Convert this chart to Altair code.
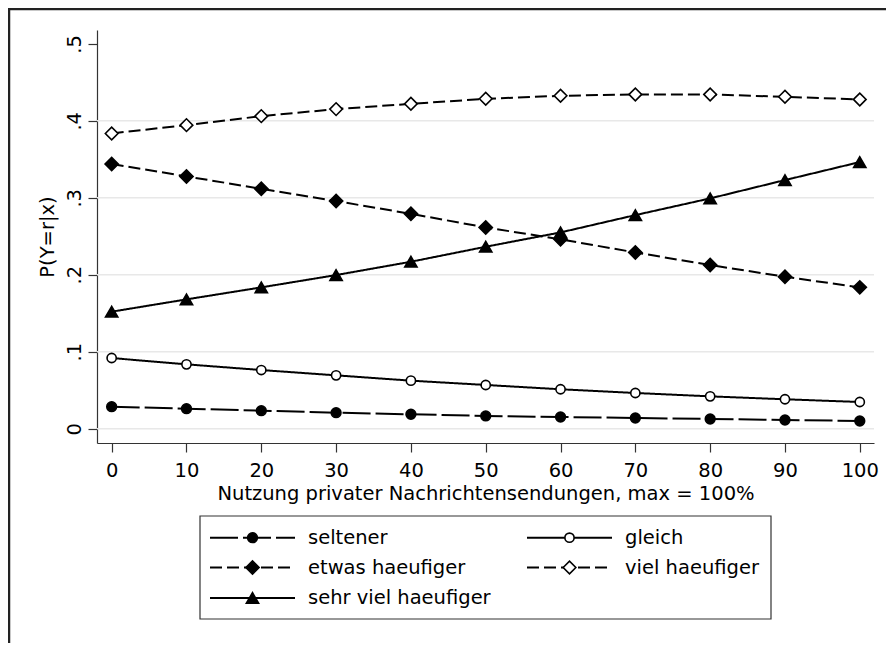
import altair as alt
import pandas as pd

# ---- data ----
x_vals = [0, 10, 20, 30, 40, 50, 60, 70, 80, 90, 100]
seltener = [0.0286, 0.0260, 0.0234, 0.0208, 0.0187, 0.0166, 0.0152, 0.0139, 0.0126, 0.0113, 0.0100]
gleich = [0.0918, 0.0836, 0.0762, 0.0693, 0.0624, 0.0568, 0.0512, 0.0464, 0.0420, 0.0382, 0.0347]
etwas = [0.3438, 0.3278, 0.3117, 0.2957, 0.2792, 0.2615, 0.2460, 0.2290, 0.2126, 0.1974, 0.1836]
viel = [0.3836, 0.3944, 0.4061, 0.4152, 0.4221, 0.4286, 0.4325, 0.4343, 0.4343, 0.4312, 0.4278]
sehr = [0.1520, 0.1680, 0.1836, 0.1996, 0.2169, 0.2364, 0.2550, 0.2775, 0.2992, 0.3230, 0.3464]
series_names = ["seltener", "gleich", "etwas haeufiger", "viel haeufiger", "sehr viel haeufiger"]
y_ticks = [0, 0.1, 0.2, 0.3, 0.4, 0.5]
grid_vals = [0, 0.1, 0.2, 0.3, 0.4]
x_title = "Nutzung privater Nachrichtensendungen, max = 100%"
y_title = "P(Y=r|x)"

# ---- styles ----
dash_range = [[28, 5], [1, 0], [12, 5], [12, 5], [1, 0]]
shape_range = ["circle", "circle", "diamond", "diamond", "triangle-up"]
fill_range = ["black", "white", "black", "white", "black"]
marker_size = {"seltener": 95, "gleich": 85, "etwas haeufiger": 175,
               "viel haeufiger": 160, "sehr viel haeufiger": 150}
FONT = "DejaVu Sans"
FS = 19.5

rows = []
for name, vals in zip(series_names, [seltener, gleich, etwas, viel, sehr]):
    for xv, pv in zip(x_vals, vals):
        rows.append({"x": xv, "p": pv, "series": name, "msize": marker_size[name]})
df = pd.DataFrame(rows)
grid_df = pd.DataFrame({"p": grid_vals})

W, H = 777, 413
x_scale = alt.Scale(domain=[-1.96, 101.9], nice=False, zero=False)
y_scale = alt.Scale(domain=[-0.0186, 0.518], nice=False, zero=False)

x_axis = alt.Axis(values=x_vals, format="d", tickSize=9, labelPadding=24,
                  labelBaseline="alphabetic", labelAlign="center", labelFlush=False,
                  labelFont=FONT, labelFontSize=FS, labelColor="black",
                  domainColor="#333", tickColor="#333", domainWidth=1.2, tickWidth=1.2,
                  grid=False, title=x_title, titleFont=FONT, titleFontSize=FS,
                  titleFontWeight="normal", titleColor="black",
                  titleX=W / 2, titleY=56, titleAlign="center", titleBaseline="alphabetic")
y_axis = alt.Axis(values=y_ticks,
                  labelExpr="datum.value == 0 ? '0' : replace(format(datum.value, '.1f'), '0.', '.')",
                  tickSize=9, labelPadding=8, labelAngle=270, labelAlign="center",
                  labelBaseline="alphabetic", labelFlush=False,
                  labelFont=FONT, labelFontSize=FS, labelColor="black",
                  domainColor="#333", tickColor="#333", domainWidth=1.2, tickWidth=1.2,
                  grid=False, title=y_title, titleFont=FONT, titleFontSize=FS,
                  titleFontWeight="normal", titleColor="black", titleAngle=270,
                  titleX=-44, titleY=H / 2, titleAlign="center", titleBaseline="alphabetic")

x_enc = alt.X("x:Q", scale=x_scale, axis=x_axis)
y_enc = alt.Y("p:Q", scale=y_scale, axis=y_axis)
dash_enc = alt.StrokeDash("series:N", scale=alt.Scale(domain=series_names, range=dash_range), legend=None)
shape_enc = alt.Shape("series:N", scale=alt.Scale(domain=series_names, range=shape_range), legend=None)
fill_enc = alt.Fill("series:N", scale=alt.Scale(domain=series_names, range=fill_range), legend=None)
size_enc = alt.Size("msize:Q", scale=None, legend=None)

grid = alt.Chart(grid_df).mark_rule(color="#e8e8e8", strokeWidth=1.5).encode(y=y_enc)

lines = alt.Chart(df).mark_line(color="black", strokeWidth=2).encode(
    x=x_enc, y=y_enc, strokeDash=dash_enc, detail="series:N")
points = alt.Chart(df).mark_point(filled=False, stroke="black", strokeWidth=1.6, opacity=1).encode(
    x=x_enc, y=y_enc, shape=shape_enc, fill=fill_enc, size=size_enc)

# ---- frame around the whole graph ----
one = pd.DataFrame({"k": [0]})
frame_top = alt.Chart(one).mark_rule(color="#222", strokeWidth=2.5).encode(
    x=alt.value(-88), x2=alt.value(W + 12), y=alt.value(-21))
frame_left = alt.Chart(one).mark_rule(color="#222", strokeWidth=2.5).encode(
    x=alt.value(-88), y=alt.value(-22), y2=alt.value(H + 200))

# ---- legend (two columns, boxed, below the plot) ----
col_x0 = [113, 430]
row_y = [507.7, 537.5, 568.0]
line_len = 85
pos = {"seltener": (0, 0), "gleich": (1, 0), "etwas haeufiger": (0, 1),
       "viel haeufiger": (1, 1), "sehr viel haeufiger": (0, 2)}
leg = pd.DataFrame([{
    "series": s,
    "lx1": col_x0[pos[s][0]], "lx2": col_x0[pos[s][0]] + line_len,
    "mx": col_x0[pos[s][0]] + line_len / 2, "tx": col_x0[pos[s][0]] + 98,
    "ly": row_y[pos[s][1]], "msize": marker_size[s]} for s in series_names])
box = pd.DataFrame({"bx1": [103], "bx2": [674], "by1": [486], "by2": [589]})

leg_box = alt.Chart(box).mark_rect(fill="white", stroke="#333", strokeWidth=1.2).encode(
    x=alt.X("bx1:Q", scale=None), x2="bx2:Q", y=alt.Y("by1:Q", scale=None), y2="by2:Q")
leg_lines = alt.Chart(leg).mark_rule(color="black", strokeWidth=2).encode(
    x=alt.X("lx1:Q", scale=None), x2="lx2:Q", y=alt.Y("ly:Q", scale=None), strokeDash=dash_enc)
leg_pts = alt.Chart(leg).mark_point(filled=False, stroke="black", strokeWidth=1.6, opacity=1).encode(
    x=alt.X("mx:Q", scale=None), y=alt.Y("ly:Q", scale=None), shape=shape_enc, fill=fill_enc,
    size=size_enc)
leg_txt = alt.Chart(leg).mark_text(align="left", baseline="middle", font=FONT, fontSize=FS,
                                   color="black").encode(
    x=alt.X("tx:Q", scale=None), y=alt.Y("ly:Q", scale=None), text="series:N")

chart = alt.layer(grid, frame_top, frame_left, leg_box, lines, points,
                  leg_lines, leg_pts, leg_txt).properties(
    width=W, height=H,
    autosize=alt.AutoSizeParams(type="none"),
    padding={"left": 89, "top": 22, "right": 12, "bottom": 200},
    background="white",
).configure_view(stroke=None)

chart.save("out.html", embed_options={"renderer": "svg", "actions": False})
